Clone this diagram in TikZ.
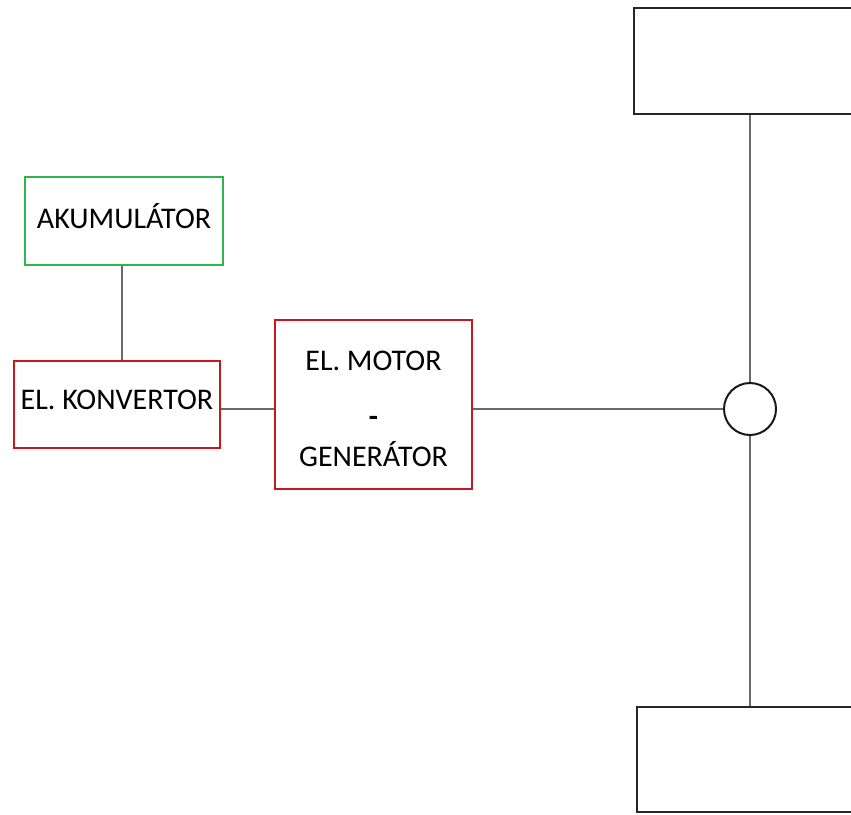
\documentclass[tikz,border=0pt]{standalone}
\usepackage{fontspec}
\setmainfont{Carlito}
\definecolor{boxgreen}{HTML}{2DB84D}
\definecolor{boxred}{HTML}{C8181E}
\definecolor{wire}{HTML}{6A6A6A}
\begin{document}
\begin{tikzpicture}[x=1pt,y=-1pt,
  unit/.style={draw, line width=2pt, rectangle, inner sep=0pt,
    font=\fontsize{30}{48}\selectfont, align=center},
  greenbox/.style={unit, draw=boxgreen},
  redbox/.style={unit, draw=boxred},
  wheelbox/.style={draw=black!85, line width=2.6pt, rectangle, inner sep=0pt},
  link/.style={draw=wire, line width=1.6pt}]
  \useasboundingbox (0,0) rectangle (851,814);
  \clip (0,0) rectangle (851,814);

  % energy storage and power electronics
  \node[greenbox, minimum width=198pt, minimum height=88pt,
        text height=19pt, text depth=4pt] (akum) at (124,221) {AKUMULÁTOR};
  \node[redbox, minimum width=206pt, minimum height=87pt,
        text height=19pt, text depth=8.7pt] (konv) at (117,404.5) {EL. KONVERTOR};
  \node[redbox, minimum width=197pt, minimum height=169pt] (motor) at (373.5,404.5) {};
  \node[font=\fontsize{30}{48}\selectfont, align=center, inner sep=0pt]
    (motortext) at ([yshift=-4pt]motor.center)
    {EL. MOTOR\\\raisebox{-8pt}{\textbf{-}}\\GENERÁTOR};

  % drive axle: coupling and the two wheels
  \node[draw=black!90, line width=2pt, circle, minimum size=52pt, inner sep=0pt] (hub) at (750,409) {};
  \node[wheelbox, minimum width=266pt, minimum height=106pt] (wtop) at (767,61) {};
  \node[wheelbox, minimum width=263pt, minimum height=105pt] (wbot) at (768.5,759.5) {};

  % connections
  \draw[link] (akum.south -| 122,0) -- (konv.north -| 122,0);
  \draw[link] (konv.east |- hub.west) -- (motor.west |- hub.west);
  \draw[link] (motor.east |- hub.west) -- (hub.west);
  \draw[link] (hub.north) -- (hub.north |- wtop.south);
  \draw[link] (hub.south) -- (hub.south |- wbot.north);
\end{tikzpicture}
\end{document}
